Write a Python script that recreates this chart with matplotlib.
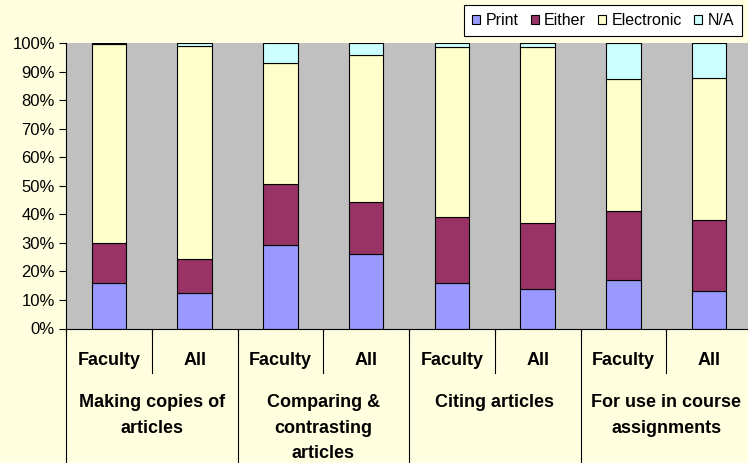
import matplotlib
matplotlib.use("Agg")
import matplotlib.pyplot as plt
from matplotlib.patches import Patch
from matplotlib.lines import Line2D
import numpy as np

series_names = ["Print", "Either", "Electronic", "N/A"]
series_colors = ["#9999FF", "#993366", "#FFFFCC", "#CCFFFF"]
sub_labels = ["Faculty", "All"] * 4
group_labels = ["Making copies of\narticles", "Comparing &\ncontrasting\narticles",
                "Citing articles", "For use in course\nassignments"]
print_vals = [16.0, 12.3, 29.1, 26.1, 15.8, 13.7, 17.0, 13.0]
either_vals = [14.0, 11.9, 21.5, 18.2, 23.3, 23.1, 24.0, 25.0]
electronic_vals = [69.6, 74.9, 42.3, 51.6, 59.4, 61.7, 46.3, 49.9]
na_vals = [0.4, 0.9, 7.1, 4.1, 1.5, 1.5, 12.7, 12.1]
yticks = [0, 10, 20, 30, 40, 50, 60, 70, 80, 90, 100]

W, H = 748, 463
fig = plt.figure(figsize=(W / 100, H / 100), dpi=100)
bg = "#FFFFE0"
fig.patch.set_facecolor(bg)
plt.rcParams["font.family"] = ["Liberation Sans", "DejaVu Sans"]

left_px, right_px, top_px, bot_px = 66, 752, 43, 328.5
ax = fig.add_axes([left_px / W, 1 - bot_px / H, (right_px - left_px) / W, (bot_px - top_px) / H])
ax.set_facecolor("#C0C0C0")

data = np.array([print_vals, either_vals, electronic_vals, na_vals])
totals = data.sum(axis=0)
pct = data / totals * 100
x = np.arange(len(sub_labels)) + 0.5
bottom = np.zeros(len(sub_labels))
for i, name in enumerate(series_names):
    ax.bar(x, pct[i], 0.4, bottom=bottom, color=series_colors[i], edgecolor="black",
           linewidth=0.8, label=name, zorder=2)
    bottom += pct[i]

ax.set_xlim(0, len(sub_labels))
ax.set_ylim(0, 100)
ax.set_yticks(yticks)
ax.set_yticklabels([f"{v}%" for v in yticks], fontsize=12)
ax.tick_params(axis="y", direction="out", length=5, width=0.8, pad=3, colors="black")
ax.set_xticks(np.arange(len(sub_labels) + 1))
ax.set_xticklabels([])
ax.tick_params(axis="x", direction="out", length=5, width=0.8)
for s in ["top", "right"]:
    ax.spines[s].set_visible(False)
ax.spines["left"].set_color("black")
ax.spines["bottom"].set_color("black")
ax.spines["left"].set_linewidth(0.8)
ax.spines["bottom"].set_linewidth(0.8)

tr = matplotlib.transforms.blended_transform_factory(ax.transData, fig.transFigure)
def fy(py):
    return 1 - py / H

for i, lab in enumerate(sub_labels):
    ax.text(x[i], fy(360.5), lab, transform=tr, ha="center", va="center",
            fontsize=13, fontweight="bold", clip_on=False)
for g, lab in enumerate(group_labels):
    ax.text(2 * g + 1, fy(394), lab, transform=tr, ha="center", va="top",
            fontsize=13, fontweight="bold", linespacing=1.66, clip_on=False)

for k in range(len(sub_labels) + 1):
    if k % 2 == 1:
        y1 = fy(373)
    else:
        y1 = 0
    fig.add_artist(Line2D([k, k], [fy(bot_px), y1], transform=tr, color="black",
                          linewidth=0.8, clip_on=False))

handles = [Patch(facecolor=c, edgecolor="black", linewidth=0.8) for c in series_colors]
leg = fig.legend(handles, series_names, loc="upper left",
                 bbox_to_anchor=(464 / W, 1 - 5 / H), ncol=4, fontsize=11.5,
                 frameon=True, fancybox=False, edgecolor="black", framealpha=1,
                 handlelength=0.5, handleheight=0.5, handletextpad=0.35,
                 columnspacing=0.75, borderpad=0.5, borderaxespad=0)
leg.get_frame().set_linewidth(0.8)

fig.savefig("out.png", dpi=100, facecolor=bg)
